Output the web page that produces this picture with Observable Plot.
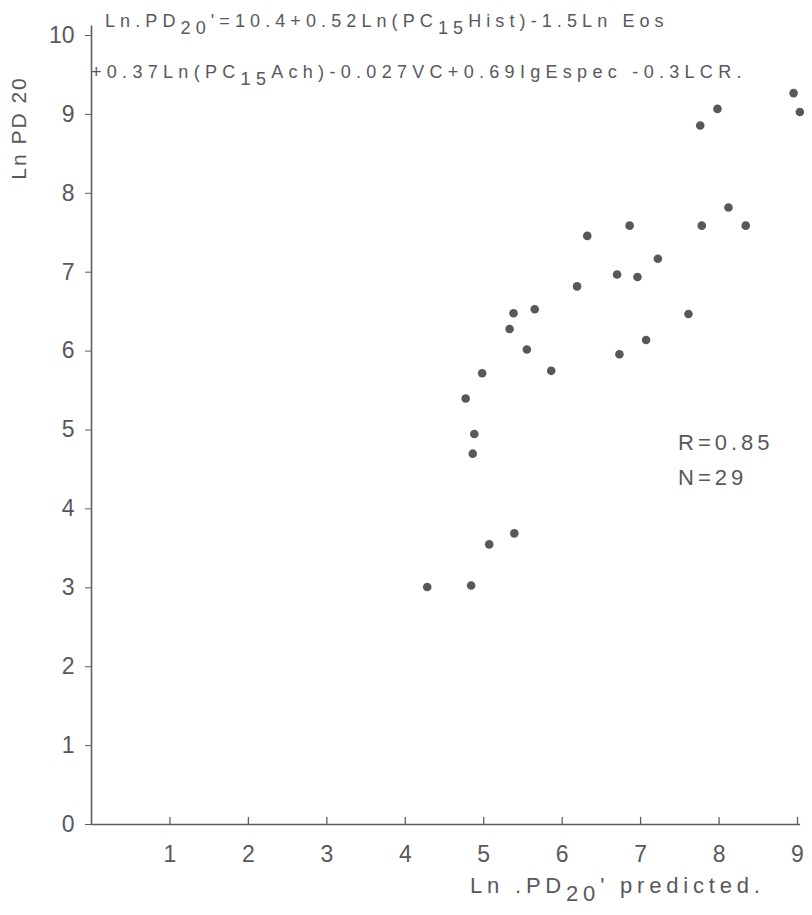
<!DOCTYPE html>
<html>
<head>
<meta charset="utf-8">
<script src="https://cdn.jsdelivr.net/npm/d3@7"></script>
<script src="https://cdn.jsdelivr.net/npm/@observablehq/plot@0.6"></script>
<style>
  html, body { margin: 0; padding: 0; background: #fff; }
  #chart { width: 812px; height: 915px; }
</style>
</head>
<body>
<div id="chart"></div>
<script>
// Observed Ln PD20 against the value predicted by the regression model
const predicted = [8.12, 6.86, 7.78, 8.34, 6.32, 7.22, 6.70, 6.96, 6.19, 5.38,
                   5.65, 5.33, 7.61, 7.07, 5.55, 6.73, 4.98, 5.86, 4.77, 4.88,
                   4.86, 5.39, 5.07, 4.28, 4.84, 8.95, 9.03, 7.98, 7.76];
const observed  = [7.82, 7.59, 7.59, 7.59, 7.46, 7.17, 6.97, 6.94, 6.82, 6.48,
                   6.53, 6.28, 6.47, 6.14, 6.02, 5.96, 5.72, 5.75, 5.40, 4.95,
                   4.70, 3.69, 3.55, 3.01, 3.03, 9.27, 9.03, 9.07, 8.86];

const xTicks = [1, 2, 3, 4, 5, 6, 7, 8, 9];
const yTicks = [0, 1, 2, 3, 4, 5, 6, 7, 8, 9, 10];

const stats = ["R=0.85", "N=29"];

const points = predicted.map((x, i) => ({x, y: observed[i]}));

const ink = "#58585c";
const font = "'Liberation Sans', Arial, sans-serif";

const chart = Plot.plot({
  width: 812,
  height: 915,
  marginLeft: 91,
  marginRight: 15,
  marginTop: 35,
  marginBottom: 91,
  x: {domain: [0, 9]},
  y: {domain: [0, 10]},
  style: {fontFamily: font, color: ink, background: "#fff"},
  marks: [
    // axis lines
    Plot.ruleY([0], {x1: 0, x2: 9.04, stroke: "#5e5e62", strokeWidth: 1.6}),
    Plot.ruleX([0], {y1: 0, y2: 10.12, stroke: "#5e5e62", strokeWidth: 1.6}),
    // y axis: outward ticks with labels
    Plot.axisY(yTicks, {tickSize: 6, tickPadding: 11, fontSize: 23, label: null,
                        stroke: "#5e5e62", tickFormat: d => String(d)}),
    // x axis: labels only, ticks drawn pointing inward below
    Plot.axisX(xTicks, {tickSize: 0, tickPadding: 21, fontSize: 23, label: null,
                        tickFormat: d => String(d)}),
    Plot.ruleX(xTicks, {x: d => d, y1: 0, y2: 0.09, stroke: "#5e5e62", strokeWidth: 1.3}),
    Plot.dot(points, {x: "x", y: "y", r: 4.3, fill: ink, stroke: "none"})
  ]
});

document.getElementById("chart").append(chart);

// Rich text (subscripts) for the equation and axis titles
const svg = d3.select(chart);

function richText(x, y, parts, opts = {}) {
  const t = svg.append("text")
    .attr("x", x).attr("y", y)
    .attr("text-anchor", "start")
    .attr("fill", ink)
    .attr("font-family", font)
    .attr("font-size", opts.size || 17)
    .attr("letter-spacing", opts.spacing || 0);
  let shift = 0;
  for (const p of parts) {
    const sub = Array.isArray(p);
    const s = t.append("tspan").text(sub ? p[0] : p);
    const target = sub ? (opts.subShift || 7) : 0;
    if (target !== shift) { s.attr("dy", target - shift); shift = target; }
  }
  return t;
}

richText(105, 27, ["Ln.PD", ["20"], "'=10.4+0.52Ln(PC", ["15"], "Hist)-1.5Ln Eos"],
  {size: 18, spacing: 5.1, subShift: 7});
richText(91, 78, ["+0.37Ln(PC", ["15"], "Ach)-0.027VC+0.69IgEspec -0.3LCR."],
  {size: 18, spacing: 5.3, subShift: 7});

richText(470, 893, ["Ln .PD", ["20"], "' predicted."], {size: 22, spacing: 4.8, subShift: 8});

svg.append("text")
  .attr("transform", "translate(26,128) rotate(-90)")
  .attr("text-anchor", "middle")
  .attr("fill", ink)
  .attr("font-family", font)
  .attr("font-size", 21)
  .attr("letter-spacing", 2)
  .text("Ln PD 20");

svg.selectAll("text.stat")
  .data(stats)
  .join("text")
  .attr("class", "stat")
  .attr("x", 678)
  .attr("y", (d, i) => 450 + i * 35)
  .attr("text-anchor", "start")
  .attr("fill", ink)
  .attr("font-family", font)
  .attr("font-size", 22)
  .attr("letter-spacing", 4)
  .text(d => d);
</script>
</body>
</html>
